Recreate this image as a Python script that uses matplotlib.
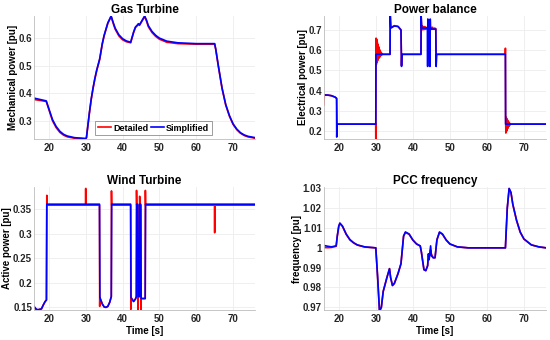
import numpy as np
import matplotlib
matplotlib.use('Agg')
from matplotlib import pyplot as plt

plt.rcParams['font.family'] = ['Liberation Sans', 'DejaVu Sans']
plt.rcParams['font.weight'] = 'bold'

# ---- Gas turbine (mechanical power, pu) ----
gt_t_simp = [16, 19.3, 20, 21, 22, 23, 24, 25, 27, 30, 30.2, 31, 31.5, 32, 32.5, 33, 33.8,
             34.5, 35, 36, 36.9, 37.5, 38, 39, 40, 41, 42.2, 43, 43.5, 44, 44.3, 44.6, 45,
             46, 46.5, 47, 48, 49, 50, 52, 55, 60, 65, 65.3, 66, 67, 68, 69, 70, 71, 72, 73,
             74, 76]
gt_p_simp = [0.383, 0.373, 0.345, 0.305, 0.280, 0.263, 0.252, 0.246, 0.240, 0.237, 0.240,
             0.330, 0.380, 0.420, 0.455, 0.485, 0.525, 0.580, 0.610, 0.655, 0.680, 0.655,
             0.636, 0.612, 0.598, 0.590, 0.585, 0.622, 0.640, 0.647, 0.652, 0.648, 0.657,
             0.680, 0.665, 0.645, 0.624, 0.610, 0.600, 0.589, 0.583, 0.580, 0.580, 0.560,
             0.500, 0.420, 0.360, 0.320, 0.290, 0.271, 0.258, 0.250, 0.245, 0.240]
gt_t_det = [16, 19.3, 20, 21, 22, 23, 24, 25, 27, 30, 30.2, 31, 31.5, 32, 32.5, 33, 33.8,
            34.5, 35, 36, 36.9, 37.5, 38, 39, 40, 41, 42.2, 43, 43.5, 44, 44.3, 44.6, 45,
            46, 46.5, 47, 48, 49, 50, 52, 55, 60, 65, 65.3, 66, 67, 68, 69, 70, 71, 72, 73,
            74, 76]
gt_p_det = [0.378, 0.371, 0.342, 0.301, 0.276, 0.259, 0.249, 0.243, 0.238, 0.236, 0.239,
            0.328, 0.378, 0.418, 0.453, 0.483, 0.523, 0.578, 0.608, 0.653, 0.678, 0.652,
            0.632, 0.608, 0.594, 0.587, 0.583, 0.620, 0.638, 0.645, 0.650, 0.646, 0.655,
            0.678, 0.662, 0.641, 0.620, 0.606, 0.596, 0.585, 0.580, 0.578, 0.578, 0.558,
            0.498, 0.418, 0.358, 0.318, 0.288, 0.269, 0.256, 0.248, 0.243, 0.238]

# ---- Power balance (electrical power, pu) ----
pb_t_simp = [16, 17, 18, 19, 19.4, 19.45, 19.55, 30.0, 30.05, 33.85, 33.9, 34.05, 35, 36,
             36.8, 36.95, 37.05, 42.2, 42.25, 42.4, 43.95, 44.0, 44.05, 44.1, 44.5, 44.6,
             44.7, 44.8, 45.0, 46.2, 46.3, 46.4, 65.0, 65.05, 76]
pb_p_simp = [0.378, 0.378, 0.375, 0.368, 0.362, 0.170, 0.234, 0.234, 0.580, 0.580, 0.770,
             0.710, 0.720, 0.718, 0.700, 0.520, 0.580, 0.580, 0.770, 0.710, 0.710, 0.520,
             0.755, 0.705, 0.705, 0.520, 0.755, 0.705, 0.705, 0.705, 0.520, 0.580, 0.580,
             0.234, 0.234]
pb_t_det = [16.0, 16.1, 17, 18, 19, 19.4, 19.45, 19.55, 29.98, 30.0, 30.04,
            30.08, 30.16, 30.24, 30.32, 30.40, 30.48, 30.56, 30.64, 30.72, 30.80, 30.88,
            30.96, 31.04, 31.12, 31.20, 31.30, 31.40, 31.55, 31.70, 31.9, 33.85, 33.9,
            34.05, 35, 36, 36.8, 36.95, 37.05, 42.2, 42.25, 42.4, 42.6, 42.8, 43.0, 43.2,
            43.4, 43.6, 43.95, 44.05, 44.2, 44.4, 44.6, 44.8, 45.0, 45.3, 45.6, 45.9, 46.2,
            46.3, 46.4, 64.98, 65.0, 65.05, 65.12, 65.2, 65.28, 65.36, 65.44, 65.52, 65.6,
            65.68, 65.76, 65.84, 65.92, 66.0, 66.1, 66.2, 66.35, 66.5, 76]
pb_p_det = [0.330, 0.380, 0.378, 0.375, 0.368, 0.362, 0.360, 0.234, 0.234, 0.160, 0.600,
            0.660, 0.530, 0.655, 0.540, 0.640, 0.548, 0.630, 0.555, 0.620, 0.560, 0.612,
            0.565, 0.603, 0.568, 0.597, 0.572, 0.590, 0.575, 0.584, 0.580, 0.580, 0.770,
            0.712, 0.722, 0.718, 0.702, 0.525, 0.580, 0.580, 0.765, 0.700, 0.720, 0.702,
            0.718, 0.703, 0.716, 0.705, 0.712, 0.720, 0.700, 0.718, 0.702, 0.716, 0.704,
            0.714, 0.705, 0.710, 0.707, 0.525, 0.580, 0.580, 0.610, 0.270, 0.190, 0.268,
            0.198, 0.262, 0.205, 0.256, 0.212, 0.250, 0.218, 0.246, 0.223, 0.242, 0.228,
            0.238, 0.232, 0.234, 0.234]

# ---- Wind turbine (active power, pu) ----
wt_t_simp = [16, 16.5, 17, 18, 18.5, 19, 19.35, 19.45, 33.75, 33.85, 34.5, 35, 35.5, 36,
             36.5, 36.95, 37.05, 42.2, 42.3, 43, 43.5, 43.75, 43.85, 44.15, 44.25, 44.6,
             44.7, 44.95, 45.05, 46.15, 46.25, 76]
wt_p_simp = [0.152, 0.147, 0.145, 0.147, 0.155, 0.162, 0.165, 0.360, 0.360, 0.170, 0.157,
             0.151, 0.150, 0.152, 0.160, 0.172, 0.360, 0.360, 0.170, 0.162, 0.167, 0.172,
             0.360, 0.360, 0.172, 0.172, 0.360, 0.360, 0.168, 0.168, 0.360, 0.360]
wt_t_det = [16, 16.5, 17, 18, 18.5, 19, 19.35, 19.45, 19.5, 29.95, 30.0, 30.05, 33.75,
            33.8, 33.85, 34.5, 35, 35.5, 36, 36.5, 36.95, 37.0, 37.05, 42.2, 42.25, 42.3,
            43, 43.5, 43.75, 43.8, 43.85, 44.15, 44.2, 44.25, 44.6, 44.65, 44.7, 44.95,
            45.0, 45.05, 46.15, 46.2, 46.25, 64.95, 65.0, 65.05, 76]
wt_p_det = [0.150, 0.146, 0.145, 0.147, 0.155, 0.162, 0.165, 0.378, 0.358, 0.358, 0.392,
            0.358, 0.358, 0.152, 0.170, 0.157, 0.151, 0.150, 0.152, 0.160, 0.172, 0.387,
            0.358, 0.358, 0.146, 0.170, 0.162, 0.167, 0.172, 0.388, 0.358, 0.358, 0.146,
            0.172, 0.172, 0.376, 0.358, 0.358, 0.146, 0.168, 0.168, 0.388, 0.358, 0.358,
            0.302, 0.358, 0.358]

# ---- PCC frequency (pu) ----
fr_t_simp = [16, 17, 18, 19.3, 19.6, 20, 20.3, 21, 22, 23, 24, 25, 27, 30, 30.5, 31, 31.5,
             32, 33, 33.7, 34, 34.5, 35, 36, 36.8, 37.5, 38, 39, 40, 41, 42, 42.3, 43, 43.5,
             44, 44.2, 44.4, 44.8, 45, 45.5, 46, 46.5, 47.2, 48, 49, 50, 52, 55, 65, 65.5,
             66, 66.5, 67, 68, 69, 70, 72, 74, 76]
fr_v_simp = [1.0012, 1.0008, 1.0005, 1.0010, 1.0060, 1.0110, 1.0125, 1.0110, 1.0070,
             1.0042, 1.0026, 1.0015, 1.0005, 1.0000, 0.9850, 0.9680, 0.9700, 0.9780,
             0.9850, 0.9895, 0.9850, 0.9810, 0.9820, 0.9870, 0.9920, 1.0060, 1.0080,
             1.0070, 1.0040, 1.0020, 1.0010, 0.9980, 0.9890, 0.9885, 0.9910, 0.9970,
             0.9940, 1.0010, 0.9960, 0.9950, 0.9950, 1.0040, 1.0080, 1.0070, 1.0040,
             1.0020, 1.0005, 1.0000, 1.0000, 1.0200, 1.0300, 1.0280, 1.0220, 1.0140,
             1.0080, 1.0045, 1.0015, 1.0005, 1.0000]
fr_t_det = [16, 17, 18, 19.3, 19.6, 20, 20.3, 21, 22, 23, 24, 25, 27, 30, 30.5, 31, 31.5,
            32, 33, 33.7, 34, 34.5, 35, 36, 36.8, 37.5, 38, 39, 40, 41, 42, 42.3, 43, 43.5,
            44, 44.2, 44.4, 44.8, 45, 45.5, 46, 46.5, 47.2, 48, 49, 50, 52, 55, 65, 65.5,
            66, 66.5, 67, 68, 69, 70, 72, 74, 76]
fr_v_det = [1.0002, 1.0001, 1.0002, 1.0008, 1.0058, 1.0108, 1.0123, 1.0108, 1.0068,
            1.0040, 1.0025, 1.0014, 1.0004, 1.0000, 0.9850, 0.9680, 0.9700, 0.9780,
            0.9850, 0.9895, 0.9850, 0.9810, 0.9820, 0.9870, 0.9920, 1.0058, 1.0078,
            1.0068, 1.0039, 1.0019, 1.0009, 0.9980, 0.9890, 0.9885, 0.9910, 0.9960,
            0.9950, 0.9990, 0.9970, 0.9950, 0.9950, 1.0040, 1.0078, 1.0068, 1.0039,
            1.0019, 1.0005, 1.0000, 1.0000, 1.0200, 1.0298, 1.0278, 1.0218, 1.0138,
            1.0078, 1.0044, 1.0015, 1.0005, 1.0000]


def style_ax(ax, title, ylabel, xlabel=None):
    ax.set_title(title, fontsize=8.5, fontweight='bold', pad=2)
    ax.set_ylabel(ylabel, fontsize=7, fontweight='bold', labelpad=0.5)
    if xlabel:
        ax.set_xlabel(xlabel, fontsize=7, fontweight='bold', labelpad=1)
    ax.set_xlim(16, 76)
    ax.set_xticks([20, 30, 40, 50, 60, 70])
    ax.grid(True, color='#ececec', linewidth=0.6)
    ax.set_axisbelow(True)
    for s in ['top', 'right']:
        ax.spines[s].set_visible(False)
    for s in ['left', 'bottom']:
        ax.spines[s].set_color('#bdbdbd')
        ax.spines[s].set_linewidth(0.6)
    ax.tick_params(labelsize=7, length=0, colors='#262626')
    ax.tick_params(axis='x', pad=3)
    ax.tick_params(axis='y', pad=1.5)


fig = plt.figure(figsize=(5.5, 3.4), dpi=100)
ax1 = fig.add_axes([0.062, 0.591, 0.402, 0.362])
ax2 = fig.add_axes([0.589, 0.591, 0.404, 0.362])
ax3 = fig.add_axes([0.062, 0.088, 0.402, 0.362])
ax4 = fig.add_axes([0.589, 0.088, 0.404, 0.362])

lw = 1.2
ax1.plot(gt_t_det, gt_p_det, color='red', lw=lw, label='Detailed')
ax1.plot(gt_t_simp, gt_p_simp, color='blue', lw=lw, label='Simplified')
style_ax(ax1, 'Gas Turbine', 'Mechanical power [pu]')
ax1.set_ylim(0.235, 0.68)
ax1.set_yticks([0.3, 0.4, 0.5, 0.6])
leg = ax1.legend(loc='lower center', bbox_to_anchor=(0.54, 0.02), ncol=2, fontsize=6.5,
                 frameon=True, fancybox=False, handlelength=1.5, handletextpad=0.2,
                 columnspacing=0.3, borderpad=0.25, borderaxespad=0.2)
leg.get_frame().set_edgecolor('#555555')
leg.get_frame().set_linewidth(0.5)
for txt in leg.get_texts():
    txt.set_fontweight('bold')

ax2.plot(pb_t_det, pb_p_det, color='red', lw=lw)
ax2.plot(pb_t_simp, pb_p_simp, color='blue', lw=lw)
style_ax(ax2, 'Power balance', 'Electrical power [pu]')
ax2.set_ylim(0.16, 0.77)
ax2.set_yticks([0.2, 0.3, 0.4, 0.5, 0.6, 0.7])

ax3.plot(wt_t_det, wt_p_det, color='red', lw=lw)
ax3.plot(wt_t_simp, wt_p_simp, color='blue', lw=lw)
style_ax(ax3, 'Wind Turbine', 'Active power [pu]', 'Time [s]')
ax3.set_ylim(0.1445, 0.395)
ax3.set_yticks([0.15, 0.2, 0.25, 0.3, 0.35])
ax3.set_yticklabels(['0.15', '0.2', '0.25', '0.3', '0.35'])

ax4.plot(fr_t_det, fr_v_det, color='red', lw=lw)
ax4.plot(fr_t_simp, fr_v_simp, color='blue', lw=lw)
style_ax(ax4, 'PCC frequency', 'frequency [pu]', 'Time [s]')
ax4.set_ylim(0.9686, 1.0307)
ax4.set_yticks([0.97, 0.98, 0.99, 1.0, 1.01, 1.02, 1.03])
ax4.set_yticklabels(['0.97', '0.98', '0.99', '1', '1.01', '1.02', '1.03'])

plt.savefig('out.png', dpi=100)
